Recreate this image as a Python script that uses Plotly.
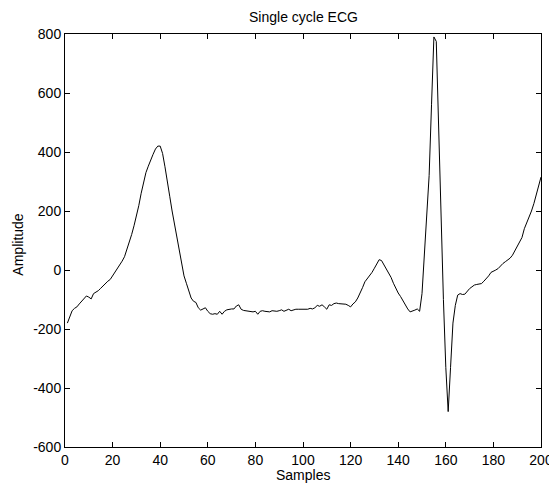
import plotly.graph_objects as go

samples = list(range(1, 201))
amplitude = [
    -180, -155, -138, -130, -125, -115, -105, -95, -88, -92,
    -98, -80, -75, -70, -62, -53, -45, -38, -32, -20,
    -10, 5, 18, 30, 45, 68, 95, 120, 150, 180,
    218, 260, 300, 330, 352, 375, 392, 410, 420, 420,
    395, 350, 305, 250, 200, 155, 105, 60, 20, -20,
    -45, -72, -95, -106, -110, -128, -136, -132, -128, -140,
    -148, -150, -148, -150, -140, -150, -140, -135, -133, -132,
    -132, -122, -118, -133, -137, -138, -138, -140, -142, -140,
    -150, -140, -138, -140, -140, -142, -138, -140, -140, -138,
    -135, -140, -135, -133, -138, -135, -133, -133, -133, -133,
    -133, -133, -130, -132, -128, -120, -123, -118, -125, -133,
    -118, -120, -114, -112, -114, -114, -114, -116, -120, -125,
    -115, -108, -95, -80, -60, -40, -30, -20, -8, 6,
    20, 35, 32, 17, 5, -8, -25, -45, -62, -78,
    -90, -105, -117, -132, -142, -140, -136, -132, -140, -80,
    50, 170, 320, 560, 790, 775, 480, 160, -100, -330,
    -480, -330, -180, -120, -85, -80, -83, -82, -72, -63,
    -57, -51, -49, -47, -46, -38, -30, -20, -8, -5,
    0, 5, 15, 22, 28, 33, 40, 50, 65, 85,
    95, 110, 140, 160, 176, 200, 225, 255, 285, 315,
]

x_ticks = list(range(0, 201, 20))
y_ticks = list(range(-600, 801, 200))
y_tick_text = [str(v) for v in y_ticks]  # plain hyphen minus like the original

title_text = "Single cycle ECG"
x_title = "Samples"
y_title = "Amplitude"

fig = go.Figure()
fig.add_trace(go.Scatter(x=samples, y=amplitude, mode="lines",
                         line=dict(color="black", width=1), showlegend=False,
                         hoverinfo="skip"))

font = dict(family="Liberation Sans, Arial, sans-serif", size=14, color="black")

axis_common = dict(ticks="inside", ticklen=5, tickcolor="black",
                   showline=True, linecolor="black", linewidth=1,
                   mirror="allticks", showgrid=False, zeroline=False,
                   automargin=False, ticklabeloverflow="allow",
                   tickfont=dict(size=14))

fig.update_layout(
    width=549, height=491,
    margin=dict(l=65, r=8, t=34, b=44),
    paper_bgcolor="white", plot_bgcolor="white",
    font=font,
    hovermode=False,
    xaxis=dict(range=[0, 200], tickvals=x_ticks, **axis_common),
    yaxis=dict(range=[-600, 800], tickvals=y_ticks, ticktext=y_tick_text,
               **axis_common),
    annotations=[
        dict(text=title_text, xref="paper", yref="paper", x=0.5, y=1,
             yshift=17, xanchor="center", yanchor="middle", showarrow=False,
             font=dict(size=14)),
        dict(text=x_title, xref="paper", yref="paper", x=0.5, y=0,
             yshift=-28, xanchor="center", yanchor="middle", showarrow=False,
             font=dict(size=14)),
        dict(text=y_title, xref="paper", yref="paper", x=0, y=0.49,
             xshift=-47, xanchor="center", yanchor="middle", showarrow=False,
             textangle=-90, font=dict(size=14)),
    ],
)

fig.write_html(
    "out.html",
    config={"displayModeBar": False, "staticPlot": True},
    post_script="document.body.style.margin='0';"
                "document.documentElement.style.overflow='hidden';",
)
